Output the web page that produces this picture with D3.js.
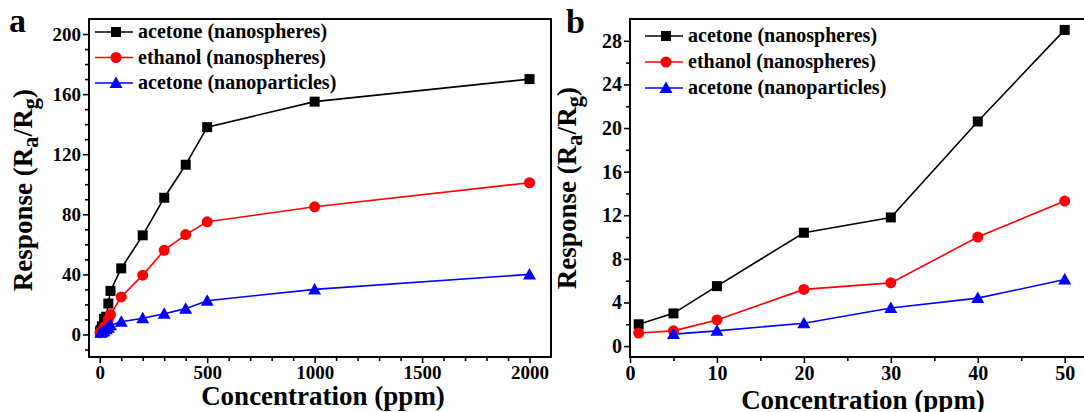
<!DOCTYPE html>
<html>
<head>
<meta charset="utf-8">
<script src="https://cdn.jsdelivr.net/npm/d3@7"></script>
<style>
  body { margin: 0; background: #fff; }
</style>
</head>
<body>
<div id="chart_area"></div>
<script>
// data
var seriesNames = ["acetone (nanospheres)", "ethanol (nanospheres)", "acetone (nanoparticles)"];
var seriesColors = ["#000000", "#ff0000", "#0000ff"];
var seriesShapes = ["square", "circle", "triangle"];

// panel a: full range
var concA = [1, 5, 10, 20, 30, 40, 50, 100, 200, 300, 400, 500, 1000, 2000];
var acetoneSpheresA = [2.0, 3.0, 5.5, 10.4, 11.8, 20.6, 29, 44, 66, 91, 113, 138, 155, 170];
var ethanolSpheresA = [1.2, 1.4, 2.4, 5.2, 5.8, 10.0, 13.3, 25, 39.5, 56, 66.5, 75, 85, 101];
var concParticlesA = [5, 10, 20, 30, 40, 50, 100, 200, 300, 400, 500, 1000, 2000];
var acetoneParticlesA = [1.1, 1.4, 2.1, 3.5, 4.4, 6.1, 8.5, 10.8, 13.8, 17.2, 22.5, 30, 40];

// panel b: low range
var concB = [1, 5, 10, 20, 30, 40, 50];
var acetoneSpheresB = [2.0, 3.0, 5.5, 10.4, 11.8, 20.6, 29];
var ethanolSpheresB = [1.2, 1.4, 2.4, 5.2, 5.8, 10.0, 13.3];
var concParticlesB = [5, 10, 20, 30, 40, 50];
var acetoneParticlesB = [1.1, 1.4, 2.1, 3.5, 4.4, 6.1];

var xTicksA = [0, 500, 1000, 1500, 2000];
var yTicksA = [0, 40, 80, 120, 160, 200];
var xTicksB = [0, 10, 20, 30, 40, 50];
var yTicksB = [0, 4, 8, 12, 16, 20, 24, 28];

var width = 1084, height = 412;

var svg = d3.select("#chart_area").append("svg")
  .attr("width", width)
  .attr("height", height);

function makeSeries(xs, ys) {
  return xs.map(function(x, i) { return {x: x, y: ys[i]}; });
}

// bold serif text helper
function styleText(sel, size) {
  return sel.attr("font-family", "Liberation Serif").attr("font-weight", "bold")
    .attr("font-size", size).attr("fill", "#000");
}

// draw a marker shape at (0,0)
function drawMarker(g, shape, color) {
  if (shape == "square") {
    g.append("rect").attr("x", -5).attr("y", -5).attr("width", 10).attr("height", 10)
      .attr("fill", color);
  } else if (shape == "circle") {
    g.append("circle").attr("r", 5.5).attr("fill", color);
  } else {
    g.append("path").attr("d", "M0,-6.5L6.5,5L-6.5,5Z").attr("fill", color);
  }
}

function drawPanel(p) {
  var x = d3.scaleLinear().domain(p.xDomain).range([p.left, p.right]);
  var y = d3.scaleLinear().domain(p.yDomain).range([p.bottom, p.top]);
  var g = svg.append("g");

  // clip the plot so panel b runs off the right edge like the original
  var clipId = "clip_" + p.label;
  svg.append("clipPath").attr("id", clipId).append("rect")
    .attr("x", p.left - 10).attr("y", p.top - 10)
    .attr("width", p.right - p.left + 20).attr("height", p.bottom - p.top + 20);

  // minor ticks
  var xMinor = d3.range(p.xDomain[0] < 0 ? 0 : p.xDomain[0], p.xDomain[1], p.xMinor)
    .filter(function(v) { return p.xTicks.indexOf(v) < 0; });
  var yMinor = d3.range(Math.ceil(p.yDomain[0] / p.yMinor) * p.yMinor, p.yDomain[1], p.yMinor)
    .filter(function(v) { return p.yTicks.indexOf(v) < 0; });

  g.append("g").attr("transform", "translate(0," + p.bottom + ")")
    .call(d3.axisBottom(x).tickValues(xMinor).tickSize(4).tickSizeOuter(0).tickFormat(""))
    .call(function(a) { a.select(".domain").remove(); a.selectAll("line").attr("stroke-width", 1.6); });
  g.append("g").attr("transform", "translate(" + p.left + ",0)")
    .call(d3.axisLeft(y).tickValues(yMinor).tickSize(4).tickSizeOuter(0).tickFormat(""))
    .call(function(a) { a.select(".domain").remove(); a.selectAll("line").attr("stroke-width", 1.6); });

  // major ticks with labels
  g.append("g").attr("transform", "translate(0," + p.bottom + ")")
    .call(d3.axisBottom(x).tickValues(p.xTicks).tickSize(6).tickSizeOuter(0).tickPadding(3).tickFormat(d3.format("d")))
    .call(function(a) {
      a.select(".domain").remove();
      a.selectAll("line").attr("stroke-width", 1.6);
      styleText(a.selectAll("text"), p.tickFont);
    });
  g.append("g").attr("transform", "translate(" + p.left + ",0)")
    .call(d3.axisLeft(y).tickValues(p.yTicks).tickSize(6).tickSizeOuter(0).tickPadding(2).tickFormat(d3.format("d")))
    .call(function(a) {
      a.select(".domain").remove();
      a.selectAll("line").attr("stroke-width", 1.6);
      styleText(a.selectAll("text"), p.tickFont);
    });

  // frame
  g.append("rect")
    .attr("x", p.left).attr("y", p.top)
    .attr("width", p.right - p.left).attr("height", p.bottom - p.top)
    .attr("fill", "none").attr("stroke", "#000").attr("stroke-width", 2);

  // data lines and markers
  var line = d3.line().x(function(d) { return x(d.x); }).y(function(d) { return y(d.y); });
  var plot = g.append("g").attr("clip-path", "url(#" + clipId + ")");
  p.series.forEach(function(s, i) {
    plot.append("path").datum(s)
      .attr("d", line)
      .attr("fill", "none")
      .attr("stroke", seriesColors[i])
      .attr("stroke-width", 1.6);
  });
  p.series.forEach(function(s, i) {
    plot.selectAll(".m" + i).data(s).enter().append("g")
      .attr("class", "m" + i)
      .attr("transform", function(d) { return "translate(" + x(d.x) + "," + y(d.y) + ")"; })
      .each(function() { drawMarker(d3.select(this), seriesShapes[i], seriesColors[i]); });
  });

  // legend
  seriesNames.forEach(function(name, i) {
    var ly = p.legendY + i * p.legendStep;
    var lg = g.append("g");
    lg.append("line")
      .attr("x1", p.legendX).attr("x2", p.legendX + 38)
      .attr("y1", ly).attr("y2", ly)
      .attr("stroke", seriesColors[i]).attr("stroke-width", 1.6);
    var mg = lg.append("g").attr("transform", "translate(" + (p.legendX + 21) + "," + ly + ")");
    drawMarker(mg, seriesShapes[i], seriesColors[i]);
    styleText(lg.append("text"), p.legendFont)
      .attr("x", p.legendX + 43).attr("y", ly + 6)
      .text(name);
  });

  // panel letter
  styleText(g.append("text"), 34).attr("x", p.letterX).attr("y", p.letterY).text(p.label);

  // axis titles
  styleText(g.append("text"), 27)
    .attr("x", p.xTitleX).attr("y", p.xTitleY)
    .attr("text-anchor", "middle")
    .text("Concentration (ppm)");

  var yt = styleText(g.append("text"), 27)
    .attr("transform", "translate(" + p.yTitleX + "," + p.yTitleY + ") rotate(-90)")
    .attr("text-anchor", "middle");
  yt.append("tspan").text("Response (R");
  yt.append("tspan").attr("dy", 6).attr("font-size", 23).text("a");
  yt.append("tspan").attr("dy", -6).text("/R");
  yt.append("tspan").attr("dy", 6).attr("font-size", 23).text("g");
  yt.append("tspan").attr("dy", -6).text(")");
}

drawPanel({
  label: "a",
  left: 89, right: 551, top: 19, bottom: 357,
  xDomain: [-50, 2100], yDomain: [-15, 210],
  xTicks: xTicksA, yTicks: yTicksA, xMinor: 100, yMinor: 10,
  tickFont: 19,
  series: [makeSeries(concA, acetoneSpheresA), makeSeries(concA, ethanolSpheresA), makeSeries(concParticlesA, acetoneParticlesA)],
  legendX: 95, legendY: 32, legendStep: 25.5, legendFont: 20,
  letterX: 9, letterY: 32,
  xTitleX: 323, xTitleY: 405,
  yTitleX: 32, yTitleY: 190
});

drawPanel({
  label: "b",
  left: 630, right: 1096, top: 19, bottom: 357,
  xDomain: [0, 53.6], yDomain: [-1, 30],
  xTicks: xTicksB, yTicks: yTicksB, xMinor: 5, yMinor: 2,
  tickFont: 20,
  series: [makeSeries(concB, acetoneSpheresB), makeSeries(concB, ethanolSpheresB), makeSeries(concParticlesB, acetoneParticlesB)],
  legendX: 645, legendY: 36, legendStep: 26, legendFont: 20,
  letterX: 566, letterY: 33,
  xTitleX: 863, xTitleY: 409,
  yTitleX: 576, yTitleY: 188
});
</script>
</body>
</html>
